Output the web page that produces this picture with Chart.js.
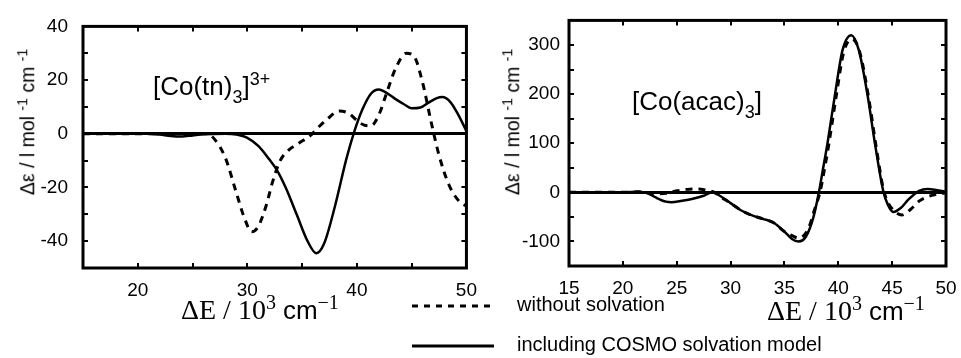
<!DOCTYPE html>
<html><head><meta charset="utf-8">
<script src="https://cdn.jsdelivr.net/npm/chart.js@4.4.0/dist/chart.umd.min.js"></script>
<style>
html,body{margin:0;padding:0;background:#fff;}
body{width:961px;height:358px;position:relative;overflow:hidden;font-family:"Liberation Sans",Arial,sans-serif;color:#000;}
canvas{position:absolute;top:0;}
.t{position:absolute;white-space:nowrap;line-height:1;}
.yt{font-size:19.5px;transform:translate(-50%,-50%) rotate(-90deg);}
.yt span{font-size:14px;position:relative;top:-7px;}
.xt{font-family:"Liberation Serif","Times New Roman",serif;font-size:28px;}
.xt .s{font-family:"Liberation Sans",Arial,sans-serif;font-size:26px;}
.xt sup{font-size:20px;position:relative;top:-4px;vertical-align:top;}
.cx{font-size:26px;}
.cx .sb{font-size:18px;position:relative;top:8px;}
.cx .sp{font-size:18px;position:relative;top:-10px;}
.lg{font-size:20px;}
</style></head><body>
<canvas id="c1" width="480" height="330" style="left:0px"></canvas>
<canvas id="c2" width="481" height="330" style="left:480px"></canvas>

<div class="t yt" style="left:28px;top:122px">Δε / l mol <span>-1</span> cm <span>-1</span></div>
<div class="t yt" style="left:513px;top:122px">Δε / l mol <span>-1</span> cm <span>-1</span></div>

<div class="t cx" style="left:153px;top:73px">[Co(tn)<span class="sb">3</span>]<span class="sp">3+</span></div>
<div class="t cx" style="left:632px;top:88px">[Co(acac)<span class="sb">3</span>]</div>

<div class="t xt" style="left:181px;top:296px">ΔE / 10<sup>3</sup> <span class="s">cm</span><sup>−1</sup></div>
<div class="t xt" style="left:767px;top:297px">ΔE / 10<sup>3</sup> <span class="s">cm</span><sup>−1</sup></div>

<svg style="position:absolute;left:410px;top:296px" width="90" height="60">
  <line x1="2" y1="10" x2="84" y2="10" stroke="#000" stroke-width="3" stroke-dasharray="6,6"/>
  <line x1="2" y1="50" x2="84" y2="50" stroke="#000" stroke-width="3"/>
</svg>
<div class="t lg" style="left:517px;top:294px">without solvation</div>
<div class="t lg" style="left:517px;top:334px">including COSMO solvation model</div>

<script>
// ---- data: [Co(tn)3]3+ ----
const tnSolidX = [15, 18, 21, 22, 23, 24, 25, 26, 28, 29, 30, 31, 32, 32.7, 33.5, 34.5, 35.5, 36.3, 37, 38, 39, 39.7, 40.5, 41.3, 42, 42.8, 43.5, 44.3, 45, 45.8, 46.5, 47.3, 47.8, 48.5, 49.2, 50];
const tnSolid  = [0, 0, 0, -0.3, -0.8, -1, -0.6, -0.2, 0, -0.3, -1.5, -4.5, -9.5, -13.5, -20, -30, -40, -44.5, -41, -27, -10, 0, 9, 15, 16.5, 15, 13, 11, 9.5, 9.8, 11.5, 13.3, 13.7, 12, 7.5, 1];
const tnDottedX = [15, 20, 25, 26.3, 27, 28, 29, 29.7, 30.4, 31, 31.7, 32.3, 33, 33.8, 34.7, 35.8, 36.5, 37.3, 38.4, 39.3, 40, 40.7, 41.3, 42, 42.7, 43.5, 44.5, 45.2, 46, 46.8, 47.5, 48.4, 49.3, 50];
const tnDotted  = [0, 0, 0, 0, -2, -9, -22, -31, -36.5, -34.5, -27, -18, -10, -6, -3.5, -0.5, 2.5, 5.5, 8.5, 7.5, 5, 3.2, 3, 7, 15, 24, 30, 29, 19, 4, -8, -19, -25, -27];
const tnXTicks = [20, 30, 40, 50];
const tnYTicks = [40, 20, 0, -20, -40];
const tnXMinor = [20, 25, 30, 35, 40, 45];
const tnYMinor = [-40, -30, -20, -10, 10, 20, 30];

// ---- data: [Co(acac)3] ----
const acSolidX = [15, 18, 20, 21.5, 22.3, 23, 24, 24.5, 25.5, 26.5, 27.5, 28.3, 29, 30, 31, 32, 33, 34, 35, 35.7, 36.3, 37, 37.7, 38.2, 38.6, 39, 39.7, 40.4, 41.2, 41.9, 42.7, 43.4, 44.2, 44.6, 45.1, 45.8, 46.5, 47.5, 48.3, 49.2, 50];
const acSolid  = [0, 0, 0, 1, -2, -10, -19, -20, -17, -13, -7, 0, -7, -22, -37, -47, -54, -62, -80, -95, -100, -90, -50, 0, 50, 100, 200, 290, 320, 290, 200, 100, 0, -25, -40, -32, -15, 3, 7, 4, 1];
const acDottedX = [15, 18, 20, 21.5, 22.3, 23, 24, 25, 26, 27, 27.8, 28.5, 29, 30, 31, 32, 33, 34, 35, 35.7, 36.3, 36.8, 37.3, 37.8, 38.3, 38.7, 39.1, 39.8, 40.5, 41.3, 42, 42.8, 43.5, 44.2, 44.6, 45.2, 45.9, 46.7, 47.5, 48.3, 49.2, 50];
const acDotted  = [0, 0, 0, 1, -1, -3, -2, 3, 6, 7, 4, 0, -8, -22, -37, -47, -54, -62, -80, -88, -93, -88, -70, -35, 0, 45, 95, 195, 285, 312, 285, 195, 95, 5, -20, -38, -46, -35, -18, -9, -4, -1];
const acXTicks = [15, 20, 25, 30, 35, 40, 45, 50];
const acYTicks = [300, 200, 100, 0, -100];
const acXMinor = [20, 25, 30, 35, 40, 45];
const acYMinor = [-100, -50, 50, 100, 150, 200, 250, 300];

const pts = (xs, ys) => xs.map((x, i) => ({x, y: ys[i]}));

const framePlugin = {
  id: 'frame',
  afterDatasetsDraw(chart, args, opts) {
    const {ctx, chartArea: {left, right, top, bottom}, scales: {x, y}} = chart;
    ctx.save();
    ctx.strokeStyle = '#000';
    ctx.lineWidth = 2;
    const L = 5;
    ctx.beginPath();
    opts.xMinor.forEach(v => {
      const px = Math.round(x.getPixelForValue(v));
      ctx.moveTo(px, bottom); ctx.lineTo(px, bottom - L);
      ctx.moveTo(px, top); ctx.lineTo(px, top + L);
    });
    opts.yMinor.forEach(v => {
      const py = Math.round(y.getPixelForValue(v));
      ctx.moveTo(left, py); ctx.lineTo(left + L, py);
      ctx.moveTo(right, py); ctx.lineTo(right - L, py);
    });
    ctx.stroke();
    ctx.lineWidth = 3;
    ctx.strokeRect(left, top, right - left, bottom - top);
    ctx.restore();
  }
};

function makeChart(id, cfg) {
  const tickFont = {family: '"Liberation Sans", Arial, sans-serif', size: 19};
  return new Chart(document.getElementById(id), {
    type: 'line',
    data: {
      datasets: [
        {label: 'without solvation', data: pts(cfg.dx, cfg.dy), borderColor: '#000', borderWidth: 3, borderDash: [7, 6], pointRadius: 0, cubicInterpolationMode: 'monotone', fill: false},
        {label: 'including COSMO solvation model', data: pts(cfg.sx, cfg.sy), borderColor: '#000', borderWidth: 2.5, pointRadius: 0, cubicInterpolationMode: 'monotone', fill: false}
      ]
    },
    options: {
      responsive: false,
      animation: false,
      events: [],
      layout: {padding: {top: cfg.top, right: cfg.right, left: 0, bottom: 0}},
      plugins: {legend: {display: false}, tooltip: {enabled: false}, frame: {xMinor: cfg.xMinor, yMinor: cfg.yMinor}},
      scales: {
        x: {
          type: 'linear', min: 15, max: 50,
          afterBuildTicks: s => { s.ticks = cfg.xTicks.map(v => ({value: v})); },
          afterFit: s => { s.height = 330 - cfg.bottom; },
          ticks: {font: tickFont, color: '#000', padding: 3, maxRotation: 0, autoSkip: false},
          grid: {display: false},
          border: {display: false}
        },
        y: {
          type: 'linear', min: cfg.ymin, max: cfg.ymax,
          afterBuildTicks: s => { s.ticks = cfg.yTicks.map(v => ({value: v})); },
          afterFit: s => { s.width = cfg.left; },
          ticks: {font: tickFont, color: '#000', padding: cfg.ypad, autoSkip: false},
          grid: {drawTicks: false, lineWidth: 3, color: c => (c.tick && c.tick.value === 0) ? '#000' : 'rgba(0,0,0,0)'},
          border: {display: false}
        }
      }
    },
    plugins: [framePlugin]
  });
}

makeChart('c1', {dx: tnDottedX, dy: tnDotted, sx: tnSolidX, sy: tnSolid, xTicks: tnXTicks, yTicks: tnYTicks, xMinor: tnXMinor, yMinor: tnYMinor,
  ymin: -50, ymax: 40, top: 21, bottom: 268, left: 83, right: 12, ypad: 15});
makeChart('c2', {dx: acDottedX, dy: acDotted, sx: acSolidX, sy: acSolid, xTicks: acXTicks, yTicks: acYTicks, xMinor: acXMinor, yMinor: acYMinor,
  ymin: -150, ymax: 350, top: 17, bottom: 266, left: 89, right: 15, ypad: 9});
</script>
</body></html>
